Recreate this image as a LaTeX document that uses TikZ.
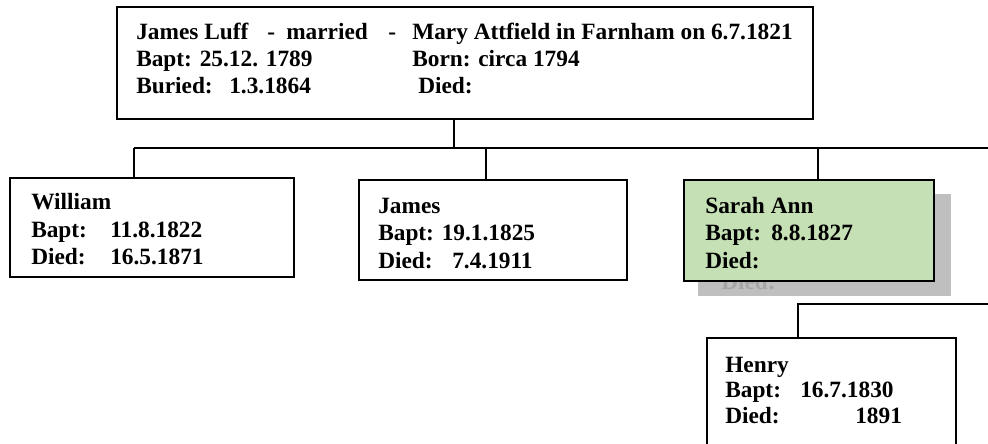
\documentclass[tikz,border=0pt]{standalone}
\usepackage{fontspec}
\setmainfont{Liberation Serif}
\definecolor{boxgreen}{HTML}{C5E0B4}
\definecolor{shadowgray}{HTML}{BFBFBF}
\definecolor{ghostgray}{HTML}{A5A5A5}
\begin{document}
\begin{tikzpicture}[x=0.75pt,y=-0.75pt,
  box/.style={draw=black, line width=1.3pt, anchor=north west, inner sep=0pt},
  txt/.style={anchor=base west, inner sep=0pt, font=\fontsize{17.5}{20}\selectfont\bfseries},
  link/.style={draw=black, line width=1.1pt}]
\useasboundingbox (0,0) rectangle (988,443);
\clip (0,0) rectangle (988,443);
\fill[white] (0,0) rectangle (988,443);

% boxes
\node[box, minimum width=522pt, minimum height=84pt] (top) at (116,6) {};
\node[box, minimum width=213pt, minimum height=74.25pt] (william) at (9,177) {};
\node[box, minimum width=201pt, minimum height=75pt] (james) at (358,179) {};
\node[anchor=north west, inner sep=0pt, fill=shadowgray, minimum width=189.75pt, minimum height=76.5pt] (shadow) at (698,194) {};
\begin{scope}
\clip (698,280) rectangle (951,296);
\node[txt, text=ghostgray] (ghost) at (721,289) {Died:};
\end{scope}
\node[box, fill=boxgreen, minimum width=187.5pt, minimum height=75.75pt] (sarah) at (683,179) {};
\node[box, minimum width=186.75pt, minimum height=100pt] (henry) at (706,337) {};

% junction coordinates
\coordinate (jmain) at (454,148);
\coordinate (jw) at (134,148);
\coordinate (jj) at (486,148);
\coordinate (js) at (818,148);
\coordinate (jend) at (988,148);
\coordinate (hh) at (798,304);
\coordinate (hend) at (988,304);

% connectors
\draw[link] (jmain |- top.south) -- (jmain);
\draw[link] (jw) -- (jend);
\draw[link] (jw) -- (jw |- william.north);
\draw[link] (jj) -- (jj |- james.north);
\draw[link] (js) -- (js |- sarah.north);
\draw[link] (hh |- henry.north) -- (hh) -- (hend);

% top box text
\node[txt] (t1a) at (136,39) {James Luff};
\node[txt] (t1b) at (267,39) {-};
\node[txt] (t1c) at (286,39) {married};
\node[txt] (t1d) at (388,39) {-};
\node[txt] (t1e) at (412,39) {Mary Attfield in Farnham on 6.7.1821};
\node[txt] (t2a) at (136,66) {Bapt: 25.12. 1789};
\node[txt] (t2b) at (412,66) {Born: circa 1794};
\node[txt] (t3a) at (136,93) {Buried:};
\node[txt] (t3b) at (229,93) {1.3.1864};
\node[txt] (t3c) at (418,93) {Died:};

% William
\node[txt] (w1) at (31,209) {William};
\node[txt] (w2) at (31,237) {Bapt:};
\node[txt] (w2b) at (110,237) {11.8.1822};
\node[txt] (w3) at (31,264) {Died:};
\node[txt] (w3b) at (110,264) {16.5.1871};

% James
\node[txt] (j1) at (378,213) {James};
\node[txt] (j2) at (378,240) {Bapt: 19.1.1825};
\node[txt] (j3) at (378,268) {Died:};
\node[txt] (j3b) at (452,268) {7.4.1911};

% Sarah Ann
\node[txt] (s1) at (705,213) {Sarah Ann};
\node[txt] (s2) at (705,240) {Bapt:};
\node[txt] (s2b) at (771,240) {8.8.1827};
\node[txt] (s3) at (705,268) {Died:};

% Henry
\node[txt] (h1) at (725,372) {Henry};
\node[txt] (h2) at (725,397) {Bapt:};
\node[txt] (h2b) at (800,397) {16.7.1830};
\node[txt] (h3) at (725,423) {Died:};
\node[txt] (h3b) at (855,423) {1891};
\end{tikzpicture}
\end{document}
